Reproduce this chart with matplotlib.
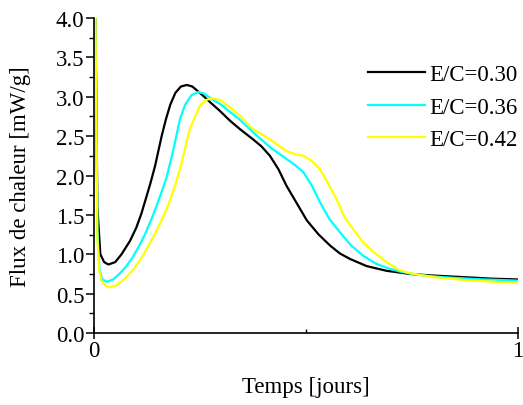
import matplotlib
matplotlib.use("Agg")
import matplotlib.pyplot as plt
from matplotlib.ticker import MultipleLocator, FixedLocator

plt.rcParams['font.family'] = ['Liberation Serif', 'DejaVu Serif']

labels = ["E/C=0.30", "E/C=0.36", "E/C=0.42"]
colors = ["#000000", "#00FFFF", "#FFFF00"]

x_030 = [0.003, 0.008, 0.015, 0.024, 0.034, 0.05, 0.065, 0.085, 0.10, 0.112, 0.122, 0.133, 0.144,
         0.160, 0.170, 0.180, 0.192, 0.205, 0.219, 0.232, 0.245, 0.260, 0.274, 0.297, 0.320,
         0.344, 0.375, 0.395, 0.415, 0.435, 0.454, 0.478, 0.502, 0.530, 0.557, 0.580, 0.604,
         0.643, 0.690, 0.745, 0.800, 0.870, 0.940, 1.0]
y_030 = [4.3, 1.6, 1.0, 0.90, 0.87, 0.90, 1.0, 1.17, 1.34, 1.52, 1.70, 1.90, 2.12,
         2.51, 2.72, 2.90, 3.05, 3.13, 3.15, 3.13, 3.07, 3.00, 2.93, 2.82, 2.70,
         2.59, 2.46, 2.37, 2.25, 2.08, 1.87, 1.65, 1.43, 1.25, 1.11, 1.01, 0.94,
         0.85, 0.79, 0.75, 0.73, 0.71, 0.69, 0.68]

x_036 = [0.003, 0.008, 0.013, 0.020, 0.031, 0.045, 0.060, 0.075, 0.090, 0.105, 0.120, 0.135, 0.148,
         0.160, 0.171, 0.187, 0.203, 0.215, 0.230, 0.246, 0.260, 0.275, 0.297, 0.320, 0.344,
         0.375, 0.415, 0.454, 0.475, 0.494, 0.513, 0.533, 0.555, 0.580, 0.605, 0.635,
         0.665, 0.695, 0.722, 0.760, 0.820, 0.900, 1.0]
y_036 = [4.3, 1.3, 0.80, 0.68, 0.65, 0.68, 0.75, 0.84, 0.95, 1.09, 1.25, 1.44, 1.62,
         1.80, 1.97, 2.32, 2.72, 2.90, 3.02, 3.06, 3.04, 2.98, 2.91, 2.81, 2.71,
         2.55, 2.36, 2.21, 2.13, 2.04, 1.88, 1.66, 1.45, 1.28, 1.12, 0.98,
         0.88, 0.82, 0.78, 0.74, 0.71, 0.685, 0.665]

x_042 = [0.003, 0.008, 0.012, 0.018, 0.027, 0.038, 0.055, 0.075, 0.095, 0.115, 0.135, 0.155,
         0.175, 0.190, 0.203, 0.215, 0.226, 0.250, 0.265, 0.278, 0.297, 0.320, 0.344,
         0.375, 0.415, 0.454, 0.475, 0.494, 0.513, 0.533, 0.552, 0.572, 0.590, 0.611,
         0.635, 0.659, 0.690, 0.720, 0.745, 0.800, 0.880, 1.0]
y_042 = [4.3, 1.2, 0.80, 0.66, 0.60, 0.58, 0.61, 0.70, 0.82, 0.98, 1.17, 1.38,
         1.62, 1.85, 2.08, 2.35, 2.59, 2.89, 2.96, 2.98, 2.96, 2.87, 2.76,
         2.59, 2.46, 2.31, 2.27, 2.25, 2.19, 2.08, 1.90, 1.70, 1.48, 1.32,
         1.15, 1.03, 0.90, 0.80, 0.76, 0.71, 0.67, 0.635]

series = [(x_030, y_030), (x_036, y_036), (x_042, y_042)]

fig = plt.figure(figsize=(5.23, 4.06), dpi=100)
ax = fig.add_axes([0.1797, 0.1773, 0.8107, 0.7759])

for (xs, ys), c, lab in zip(series, colors, labels):
    ax.plot(xs, ys, color=c, lw=1.6, label=lab, solid_joinstyle='round')

ax.set_xlim(0, 1)
ax.set_ylim(0, 4.0)
ax.spines['top'].set_visible(False)
ax.spines['right'].set_visible(False)
for s in ['left', 'bottom']:
    ax.spines[s].set_linewidth(1.2)

ax.yaxis.set_major_locator(MultipleLocator(0.5))
ax.yaxis.set_minor_locator(MultipleLocator(0.25))
ax.yaxis.set_major_formatter(matplotlib.ticker.FormatStrFormatter('%.1f'))
ax.xaxis.set_major_locator(FixedLocator([0, 1]))
ax.xaxis.set_minor_locator(FixedLocator([0.5]))
ax.set_xticklabels(['0', '1'])

fs = 16.5
ax.tick_params(axis='y', which='major', direction='out', length=6, width=1.1, labelsize=fs, pad=1)
ax.tick_params(axis='y', which='minor', direction='out', length=3.5, width=1.0)
ax.tick_params(axis='x', which='major', direction='inout', length=8, width=1.1, labelsize=fs, pad=1)
ax.tick_params(axis='x', which='minor', direction='in', length=3, width=1.0)

ax.set_xlabel('Temps [jours]', fontsize=fs, labelpad=11)
ax.set_ylabel('Flux de chaleur [mW/g]', fontsize=fs, labelpad=18)

leg = ax.legend(loc='center left', bbox_to_anchor=(0.646, 0.717), frameon=False,
                fontsize=fs, handlelength=2.5, handletextpad=0.2, labelspacing=0.5,
                borderpad=0, borderaxespad=0)
for line in leg.get_lines():
    line.set_linewidth(1.6)

fig.savefig('out.png', dpi=100)
